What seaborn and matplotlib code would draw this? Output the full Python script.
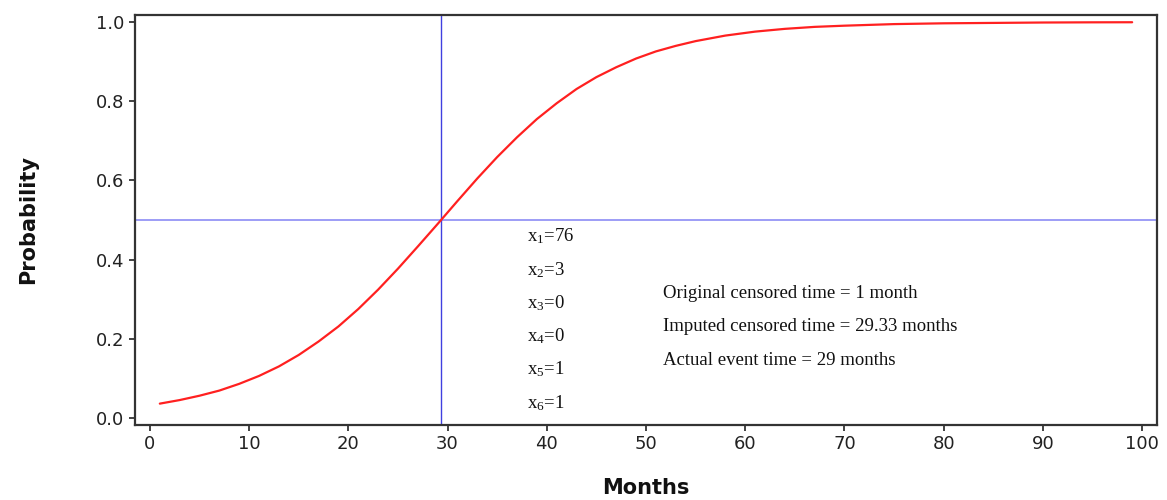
import numpy as np
import pandas as pd
import matplotlib
matplotlib.use("Agg")
import matplotlib.pyplot as plt
import seaborn as sns

# probability curve
months = [1, 3, 5, 7, 9, 11, 13, 15, 17, 19, 21, 23, 25, 27, 29, 31, 33, 35,
          37, 39, 41, 43, 45, 47, 49, 51, 53, 55, 58, 61, 64, 67, 70, 75, 80,
          85, 90, 95, 99]
probability = [0.036, 0.045, 0.056, 0.069, 0.086, 0.106, 0.130, 0.159, 0.193,
               0.231, 0.275, 0.324, 0.377, 0.433, 0.490, 0.548, 0.605, 0.659,
               0.709, 0.755, 0.795, 0.831, 0.861, 0.886, 0.908, 0.926, 0.940,
               0.952, 0.966, 0.976, 0.983, 0.988, 0.991, 0.995, 0.997, 0.998,
               0.999, 0.9995, 0.9997]

imputed_time = 29.33
median_prob = 0.5

covariate_labels = ["x$_1$=76", "x$_2$=3", "x$_3$=0", "x$_4$=0", "x$_5$=1", "x$_6$=1"]
info_lines = ["Original censored time = 1 month",
              "Imputed censored time = 29.33 months",
              "Actual event time = 29 months"]

sns.set_style("white")
plt.rcParams["font.family"] = ["DejaVu Sans"]
plt.rcParams["mathtext.fontset"] = "custom"
plt.rcParams["mathtext.rm"] = "Liberation Serif"
plt.rcParams["mathtext.it"] = "Liberation Serif"

df = pd.DataFrame({"Months": months, "Probability": probability})

fig = plt.figure(figsize=(11.67, 5), dpi=100)
ax = fig.add_axes([0.1157, 0.15, 0.8757, 0.82])

ax.axhline(median_prob, color="#8c8cf5", lw=1.2, zorder=1)
ax.axvline(imputed_time, color="#4040e0", lw=1.0, zorder=1)
sns.lineplot(data=df, x="Months", y="Probability", color="#ff2020", lw=1.6, ax=ax, zorder=3)

ax.set_xlim(-1.5, 101.5)
ax.set_ylim(-0.018, 1.018)
ax.set_xticks(np.arange(0, 101, 10))
ax.set_yticks(np.arange(0, 1.01, 0.2))
ax.set_yticklabels([f"{v:.1f}" for v in np.arange(0, 1.01, 0.2)])
ax.tick_params(axis="both", direction="out", length=4, width=1.2, labelsize=13,
               colors="#222222", left=True, bottom=True)
for s in ax.spines.values():
    s.set_color("#333333")
    s.set_linewidth(1.6)

ax.set_xlabel("Months", fontsize=15, fontweight="bold", labelpad=18, color="#111111")
ax.set_ylabel("Probability", fontsize=15, fontweight="bold", labelpad=42, color="#111111")

cov_y = [0.458, 0.374, 0.290, 0.206, 0.122, 0.038]
for lab, yy in zip(covariate_labels, cov_y):
    ax.text(38.0, yy, lab, family="Liberation Serif", fontsize=13.5, va="center",
            ha="left", color="#111111")

info_y = [0.315, 0.230, 0.146]
for lab, yy in zip(info_lines, info_y):
    ax.text(51.7, yy, lab, family="Liberation Serif", fontsize=13.5, va="center",
            ha="left", color="#111111")

fig.savefig("out.png", dpi=100)
